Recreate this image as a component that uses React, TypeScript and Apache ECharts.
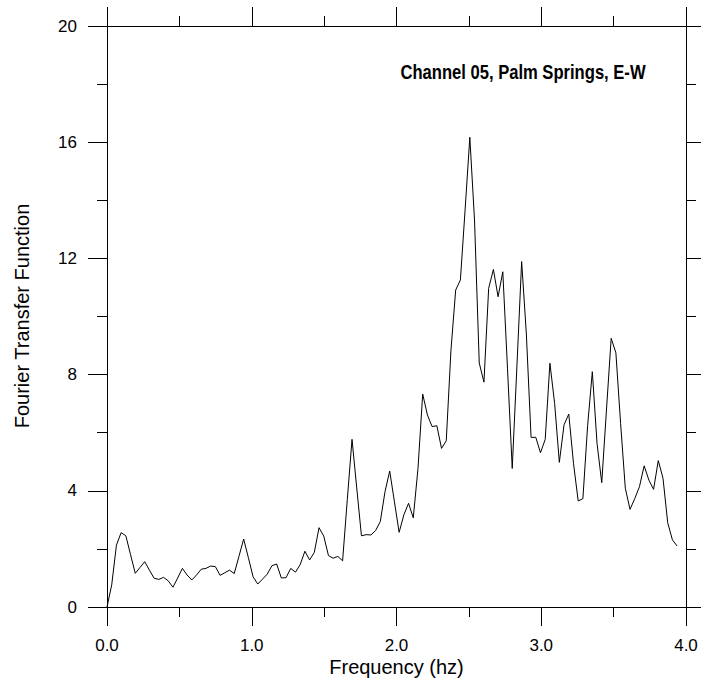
import React, { useEffect, useRef } from "react";
import * as echarts from "echarts";

// frequency step of the spectrum (Hz)
const FREQ_STEP = 0.032552;

// Fourier transfer function values, one per frequency step starting at 0 Hz
const transferValues: number[] = [
  0, 0.76, 2.13, 2.56, 2.45, 1.8, 1.16, 1.36, 1.56, 1.27,
  0.99, 0.95, 1.02, 0.9, 0.68, 1.0, 1.33, 1.1, 0.93, 1.1,
  1.3, 1.33, 1.41, 1.39, 1.09, 1.18, 1.27, 1.15, 1.74, 2.34,
  1.7, 1.04, 0.79, 0.96, 1.13, 1.42, 1.48, 1.0, 1.01, 1.33,
  1.2, 1.46, 1.92, 1.62, 1.88, 2.73, 2.44, 1.77, 1.68, 1.74,
  1.59, 3.7, 5.77, 4.1, 2.45, 2.49, 2.48, 2.63, 2.94, 3.97,
  4.68, 3.62, 2.57, 3.17, 3.57, 3.07, 4.77, 7.33, 6.61, 6.21,
  6.24, 5.46, 5.72, 8.85, 10.91, 11.26, 13.67, 16.17, 13.32, 8.4,
  7.74, 10.97, 11.62, 10.68, 11.54, 8.2, 4.77, 8.3, 11.89, 9.4,
  5.84, 5.84, 5.31, 5.77, 8.39, 7.01, 4.98, 6.27, 6.64, 4.95,
  3.65, 3.73, 6.24, 8.1, 5.63, 4.28, 6.78, 9.25, 8.75, 6.32,
  4.09, 3.36, 3.73, 4.14, 4.86, 4.37, 4.05, 5.04, 4.43, 2.9,
  2.31, 2.1,
];

const frequencies: number[] = transferValues.map((_, i) => i * FREQ_STEP);

const xTickLabels = ["0.0", "1.0", "2.0", "3.0", "4.0"];
const yTickLabels = ["0", "4", "8", "12", "16", "20"];

const chartTitle = "Channel 05, Palm Springs, E-W";
const xName = "Frequency (hz)";
const yName = "Fourier Transfer Function";

const FONT = "Arial, 'Liberation Sans', Helvetica, sans-serif";

export default function App() {
  const ref = useRef<HTMLDivElement>(null);

  useEffect(() => {
    if (!ref.current) return;
    const chart = echarts.init(ref.current, undefined, { renderer: "svg" });

    const black = "#000";
    const tickCommon = (showLabels: boolean, labels: string[], isX: boolean) => ({
      axisLine: { show: true, onZero: false, lineStyle: { color: black, width: 1 } },
      axisTick: { show: true, inside: false, length: 19, lineStyle: { color: black, width: 1 } },
      minorTick: { show: true, splitNumber: 2, length: 10, lineStyle: { color: black, width: 1 } },
      splitLine: { show: false },
      minorSplitLine: { show: false },
      axisLabel: {
        show: showLabels,
        margin: 30,
        fontSize: 17,
        fontFamily: FONT,
        color: black,
        formatter: (v: number) => {
          const idx = Math.round(isX ? v : v / 4);
          return labels[idx] ?? "";
        },
      },
    });

    const data = frequencies.map((f, i) => [f, transferValues[i]]);

    chart.setOption({
      animation: false,
      backgroundColor: "#fff",
      grid: { left: 107, top: 26, width: 579, height: 581, containLabel: false },
      xAxis: [
        { type: "value", position: "bottom", min: 0, max: 4, interval: 1, ...tickCommon(true, xTickLabels, true) },
        { type: "value", position: "top", min: 0, max: 4, interval: 1, ...tickCommon(false, xTickLabels, true) },
      ],
      yAxis: [
        { type: "value", position: "left", min: 0, max: 20, interval: 4, ...tickCommon(true, yTickLabels, false) },
        { type: "value", position: "right", min: 0, max: 20, interval: 4, ...tickCommon(false, yTickLabels, false) },
      ],
      series: [
        {
          type: "line",
          xAxisIndex: 0,
          yAxisIndex: 0,
          data,
          showSymbol: false,
          symbol: "none",
          lineStyle: { color: black, width: 1 },
          silent: true,
        },
      ],
      graphic: [
        {
          type: "text",
          x: 523,
          y: 72,
          scaleX: 0.83,
          style: {
            text: chartTitle,
            fontFamily: FONT,
            fontWeight: "bold",
            fontSize: 20,
            fill: black,
            align: "center",
            verticalAlign: "middle",
          },
        },
        {
          type: "text",
          x: 396.5,
          y: 667,
          style: {
            text: xName,
            fontFamily: FONT,
            fontSize: 20,
            fill: black,
            align: "center",
            verticalAlign: "middle",
          },
        },
        {
          type: "text",
          x: 22,
          y: 316,
          rotation: Math.PI / 2,
          style: {
            text: yName,
            fontFamily: FONT,
            fontSize: 20,
            fill: black,
            align: "center",
            verticalAlign: "middle",
          },
        },
      ],
    });

    return () => chart.dispose();
  }, []);

  return <div ref={ref} style={{ width: 701, height: 685, position: "absolute", left: 0, top: 0 }} />;
}
